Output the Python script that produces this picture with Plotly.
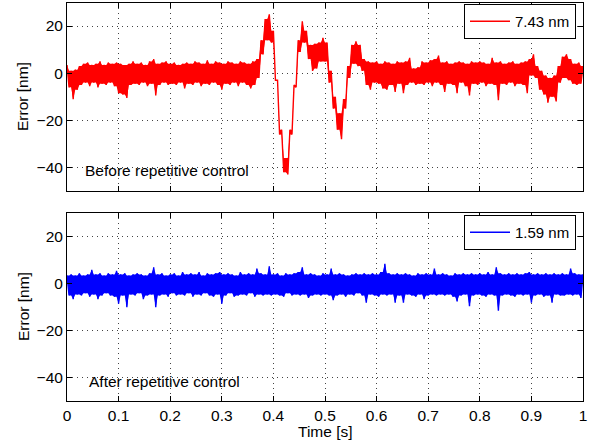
import plotly.graph_objects as go

# ---------------- data ----------------
dt = 0.004  # sampling step of the listed points [s]

before_rc = [
    3.5, -6, 1, -11, 1.5, -7,
    3, -5, 4, -4, 4.5, -5.5, 3.5, -4, 4, -6, 5, -4.5, 3.5, -5, 4.5, -4, 4, -5.5, 4.5,
    -8.5, 4, -9, 3.5, -10.5, 4, -5, 5, -4.5, 4, -5, 4.5, -4, 3.5, -5.5, 5, -4.5, 6, -9.5,
    4, -5, 4.5, -4, 5, -5, 4, -4.5, 4.5, -5, 3.5, -4, 4, -6.5, 4.5, -4.5, 4, -5, 5, -4,
    4.5, -5.5, 4, -4.5, 5.5, -5, 4, -4, 5, -5, 4.5, -7, 4, -4.5, 5, -5, 4.5, -4, 4, -5.5,
    5, -4, 4.5, -5, 4, -6.5, 5, -5,
    6, -2, 14, 8, 23, 14, 25, 13, 18, -3, -3, -26, -24, -42, -36, -43, -24, -26, -5, -6,
    14, 9, 22, 13, 18, 6, 12, 1, 12.5, 2, 13, 5, 15, 5, 13, -4, 1, -15, -10, -24, -17, -28,
    -11, -15, 3, -2, 12, 4, 13.5, 3, 12, 1, 6, -5, 5, -7, 4.5, -4,
    5, -4.5, 4, -6.5, 5, -7, 4.5, -5, 4, -8, 5, -4.5, 4.5, -8.5, 5, -5, 6.5, -4, 2, -5,
    2.5, -4.5, 5, -5, 4.5, -4, 5.5, -5.5, 6, -4, 7.5, -5, 4.5, -8, 5, -4.5, 4, -5, 4.5,
    -8.5, 5, -4, 4.5, -5.5, 4, -9.5, 5, -4.5, 4.5, -5, 5, -4, 4.5, -5.5, 4, -4.5, 6.5, -5,
    4.5, -11.5, 5, -4.5, 4, -5, 4.5, -4, 5, -5.5, 4, -4.5, 4.5, -5, 5, -8.5, 6, -1, 8, -2,
    3, -7, 1, -9, -1, -12.5, -2, -10, -1, -12, 3, -4, 7, -2, 8, -3, 6, -4.5, 4, -5, 4.5,
    -4.5, 3,
]

after_rc = [
    3.5, -5, 4, -6.5, 3.5, -4.5, 4.5, -5, 3.5, -4, 4, -5.5, 6, -4.5, 4, -6.5, 4.5, -5,
    3.5, -4, 4.5, -5, 4, -5.5, 5.5, -8.5, 4, -5, 4.5, -10, 3.5, -4.5, 4, -5, 4.5, -4, 4,
    -6.5, 3.5, -5, 4.5, -4.5, 7, -10, 4, -5, 4.5, -4.5, 3.5, -5.5, 4, -4, 4.5, -5, 3.5,
    -4.5, 5, -5, 4, -4, 4.5, -5.5, 4, -4.5, 5, -5, 3.5, -4, 4.5, -5, 4, -5.5, 4.5, -4.5,
    5, -8.5, 4, -5, 4.5, -4, 4, -5.5, 3.5, -5, 5, -4.5, 4, -5, 4.5, -4, 4, -5.5, 6.5,
    -4.5, 4.5, -5, 4, -4.5, 7.5, -5, 4, -4.5, 4.5, -5, 3.5, -5.5, 4.5, -4, 4, -5, 4.5,
    -4.5, 5, -5, 7, -4.5, 4, -6, 4.5, -5, 4, -4.5, 3.5, -5, 4.5, -4.5, 4, -5, 6.5, -7, 4,
    -5, 4.5, -4.5, 4, -5.5, 3.5, -4.5, 4, -5, 4.5, -4, 4, -5, 4.5, -8, 4, -4.5, 4.5, -5,
    4, -5.5, 5, -4.5, 8.5, -5, 4.5, -4.5, 4, -8, 4.5, -5, 4, -8, 4.5, -4.5, 4, -5, 3.5,
    -5.5, 4.5, -4.5, 4, -6.5, 4.5, -5, 4, -4.5, 6.5, -5, 4, -4.5, 4.5, -5, 4, -4.5, 3.5,
    -5.5, 4.5, -7.5, 4, -5, 4.5, -4.5, 4, -9.5, 4.5, -5, 4, -4.5, 4.5, -5, 4, -5.5, 5,
    -4.5, 4, -5, 7, -11.5, 4.5, -5, 4, -4.5, 4.5, -5, 4, -5.5, 4.5, -4.5, 4, -5, 4.5,
    -4.5, 5, -8, 4, -5, 4.5, -4.5, 4, -5.5, 4.5, -5, 4, -8, 4.5, -4.5, 4, -5, 4.5, -5, 4,
    -4.5, 6.5, -5, 4.5, -4.5, 4, -6, 4,
]

t_before = [i * dt for i in range(len(before_rc))]
t_after = [i * dt for i in range(len(after_rc))]

legend_labels = ["7.43 nm", "1.59 nm"]
panel_labels = ["Before repetitive control", "After repetitive control"]
x_ticks = [0, 0.1, 0.2, 0.3, 0.4, 0.5, 0.6, 0.7, 0.8, 0.9, 1]
x_ticktext = ["0", "0.1", "0.2", "0.3", "0.4", "0.5", "0.6", "0.7", "0.8", "0.9", "1"]
y_ticks = [-40, -20, 0, 20]
y_ticktext = ["\u221240", "\u221220", "0", "20"]


def band_edges(v):
    """Outer edges of the dense noisy trace (fills the gaps between its zigzags)."""
    up, lo = list(v), list(v)
    for i in range(1, len(v) - 1):
        up[i] = max(v[i], min(v[i - 1], v[i + 1]))
        lo[i] = min(v[i], max(v[i - 1], v[i + 1]))
    return up, lo


# ---------------- figure ----------------
W, H = 593, 447
FONT = "Liberation Sans, Arial, Helvetica, sans-serif"
FS = 15.5

def px_x(p):
    return p / W

def px_y(p):
    return 1 - p / H

fig = go.Figure()
series = [
    (t_before, before_rc, "#ff0000", legend_labels[0], "x", "y", "legend"),
    (t_after, after_rc, "#0000ff", legend_labels[1], "x2", "y2", "legend2"),
]
for t, v, col, name, xa, ya, lg in series:
    up, lo = band_edges(v)
    fig.add_trace(go.Scatter(x=t, y=up, mode="lines", line=dict(width=0, color=col),
                             showlegend=False, hoverinfo="skip", xaxis=xa, yaxis=ya))
    fig.add_trace(go.Scatter(x=t, y=lo, mode="lines", line=dict(width=0, color=col),
                             fill="tonexty", fillcolor=col, showlegend=False,
                             hoverinfo="skip", xaxis=xa, yaxis=ya))
    fig.add_trace(go.Scatter(x=t, y=v, mode="lines", line=dict(color=col, width=1.4),
                             name=name, xaxis=xa, yaxis=ya, legend=lg))

common_axis = dict(showline=True, linecolor="black", linewidth=1, mirror="ticks",
                   ticks="inside", ticklen=5, tickcolor="black", automargin=False,
                   showgrid=True, gridcolor="#444444", gridwidth=1, griddash="1px,4px",
                   zeroline=False, tickfont=dict(family=FONT, size=FS, color="black"))

xdom = [px_x(67), px_x(583)]
legend_common = dict(xanchor="right", yanchor="top", bordercolor="black", borderwidth=1,
                     bgcolor="white", font=dict(family=FONT, size=15), tracegroupgap=0,
                     itemwidth=40)
fig.update_layout(
    width=W, height=H, margin=dict(l=0, r=0, t=0, b=0, autoexpand=False),
    paper_bgcolor="white", plot_bgcolor="white", showlegend=True,
    font=dict(family=FONT, size=FS, color="black"),
    xaxis=dict(domain=xdom, range=[0, 1], anchor="y", tickvals=x_ticks,
               showticklabels=False, **common_axis),
    yaxis=dict(domain=[px_y(191), px_y(2.5)], range=[-50, 30], anchor="x",
               tickvals=y_ticks, ticktext=y_ticktext, **common_axis),
    xaxis2=dict(domain=xdom, range=[0, 1], anchor="y2", tickvals=x_ticks,
                ticktext=x_ticktext, **common_axis),
    yaxis2=dict(domain=[px_y(401.3), px_y(213.3)], range=[-50, 30], anchor="x2",
                tickvals=y_ticks, ticktext=y_ticktext, **common_axis),
    legend=dict(x=px_x(576), y=px_y(4), **legend_common),
    legend2=dict(x=px_x(576), y=px_y(215), **legend_common),
    annotations=[
        dict(text=panel_labels[0], x=px_x(83), y=px_y(170), xref="paper", yref="paper",
             xanchor="left", yanchor="middle", showarrow=False, font=dict(size=FS)),
        dict(text=panel_labels[1], x=px_x(87), y=px_y(381.5), xref="paper", yref="paper",
             xanchor="left", yanchor="middle", showarrow=False, font=dict(size=FS)),
        dict(text="Error [nm]", x=px_x(23), y=px_y(97), xref="paper", yref="paper",
             xanchor="center", yanchor="middle", textangle=-90, showarrow=False,
             font=dict(size=FS)),
        dict(text="Error [nm]", x=px_x(23), y=px_y(307), xref="paper", yref="paper",
             xanchor="center", yanchor="middle", textangle=-90, showarrow=False,
             font=dict(size=FS)),
        dict(text="Time [s]", x=px_x(325), y=px_y(431), xref="paper", yref="paper",
             xanchor="center", yanchor="middle", showarrow=False, font=dict(size=FS)),
    ],
)

fig.write_html("out.html", config={"displayModeBar": False},
               post_script="document.body.style.margin='0';")
